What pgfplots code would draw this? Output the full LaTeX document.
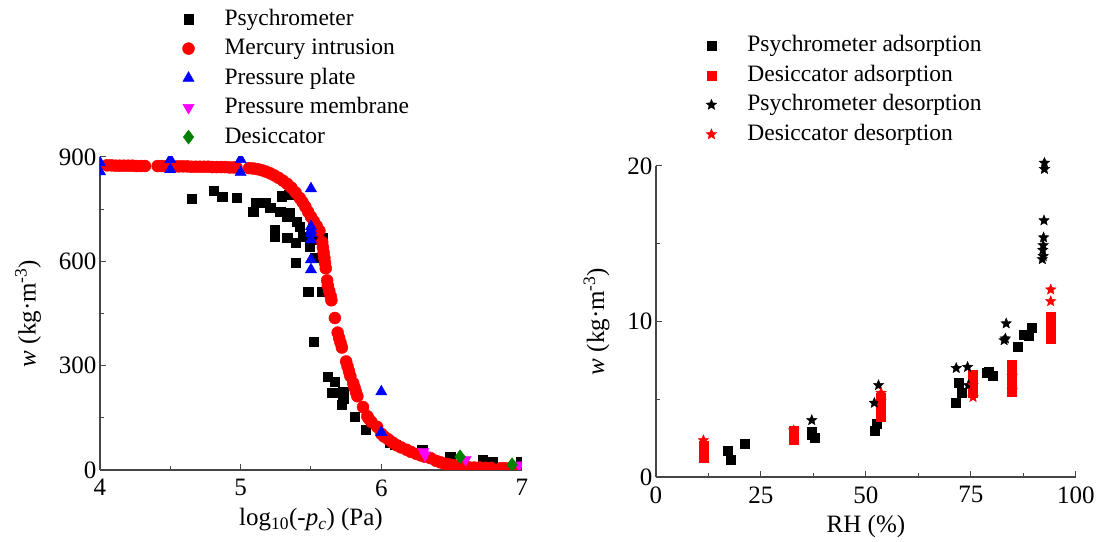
\documentclass[border=0pt]{standalone}
\usepackage{pgfplots}
\pgfplotsset{compat=1.18}
\usetikzlibrary{plotmarks}
\usepackage{fontspec}
\setmainfont{Liberation Serif}

\definecolor{axgray}{RGB}{70,70,70}
\definecolor{desgreen}{RGB}{0,128,0}
\definecolor{memmag}{RGB}{255,0,255}

% filled five-pointed star
\pgfdeclareplotmark{fstar}{%
  \pgfpathmoveto{\pgfqpointpolar{90}{\pgfplotmarksize}}%
  \pgfpathlineto{\pgfqpointpolar{126}{0.45\pgfplotmarksize}}%
  \pgfpathlineto{\pgfqpointpolar{162}{\pgfplotmarksize}}%
  \pgfpathlineto{\pgfqpointpolar{198}{0.45\pgfplotmarksize}}%
  \pgfpathlineto{\pgfqpointpolar{234}{\pgfplotmarksize}}%
  \pgfpathlineto{\pgfqpointpolar{270}{0.45\pgfplotmarksize}}%
  \pgfpathlineto{\pgfqpointpolar{306}{\pgfplotmarksize}}%
  \pgfpathlineto{\pgfqpointpolar{342}{0.45\pgfplotmarksize}}%
  \pgfpathlineto{\pgfqpointpolar{18}{\pgfplotmarksize}}%
  \pgfpathlineto{\pgfqpointpolar{54}{0.45\pgfplotmarksize}}%
  \pgfpathclose
  \pgfusepathqfillstroke}

\pgfplotsset{
  base/.style={
    scale only axis,
    axis x line=bottom, axis y line=left,
    axis line style={-, draw=axgray, line width=1.2pt},
    tick align=inside,
    major tick length=6pt, minor tick length=4pt,
    every tick/.style={axgray, line width=1pt},
    /pgf/number format/assume math mode=true,
    tick label style={font=\fontsize{25}{30}\selectfont},
    xticklabel style={yshift=-6pt},
    label style={font=\fontsize{25}{30}\selectfont},
    xlabel style={yshift=-5pt},
    ylabel style={yshift=11pt},
    legend cell align=left,
    legend style={draw=none, fill=none, font=\fontsize{23.5}{28}\selectfont,
      nodes={text height=16pt, text depth=4pt, inner sep=2pt}, row sep=5.5pt},
    legend image code/.code={\path[draw=none,fill=none] (0pt,-1pt) rectangle (37pt,1pt);
      \draw[mark repeat=2,mark phase=2] plot coordinates {(0pt,0pt) (3pt,0pt) (6pt,0pt)};},
  },
}

\begin{document}
\begin{tikzpicture}
\path (0pt,0pt) rectangle (1098pt,539pt);

% left: water content vs suction
\begin{axis}[base, at={(100pt,69pt)}, anchor=south west, width=422pt, height=313pt,
  clip marker paths=true,
  xmin=4, xmax=7, ymin=0, ymax=900,
  xtick={4,5,6,7}, minor xtick={4.5,5.5,6.5},
  ytick={0,300,600,900}, minor ytick={150,450,750},
  xlabel={log\textsubscript{10}(-\textit{p}\textsubscript{\textit{c}}) (Pa)},
  ylabel={\textit{w} (kg·m\textsuperscript{-3})},
  legend style={at={(axis description cs:0.188,1.486)}, anchor=north west},
]
\addplot[only marks, mark=square*, mark size=4.7pt, black] coordinates {
(4.65,780)(4.81,803)(4.87,785)(4.97,783)(5.09,742)(5.11,769)(5.18,769)(5.21,754)
(5.29,787)(5.34,792)(5.28,743)(5.33,729)(5.35,740)(5.40,714)(5.42,700)(5.24,691)
(5.24,671)(5.33,668)(5.39,654)(5.44,671)(5.49,642)(5.51,662)(5.58,668)(5.53,611)
(5.39,596)(5.48,513)(5.58,513)(5.52,369)(5.62,268)(5.67,253)(5.65,222)(5.73,225)
(5.72,187)(5.73,205)(5.81,153)(5.89,115)(6.06,78)(6.10,72)(6.29,58)(6.49,37)
(6.72,29)(6.79,23)(6.99,22)
};
\addlegendentry{Psychrometer}
\addplot[only marks, mark=*, mark size=6pt, red] coordinates {
(4.05,876)(4.08,876)(4.11,875)(4.14,875)(4.17,875)(4.20,875)(4.23,875)(4.26,874)
(4.29,874)(4.32,874)(4.41,874)(4.44,874)(4.47,873)(4.50,873)(4.53,873)(4.56,873)
(4.59,873)(4.62,873)(4.65,872)(4.68,872)(4.71,872)(4.74,872)(4.77,872)(4.80,871)
(4.83,871)(4.86,871)(4.89,871)(4.92,870)(4.95,870)(4.97,870)
(5.06,868)(5.09,867)(5.12,865)(5.15,862)(5.18,858)(5.21,853)(5.24,847)(5.27,840)
(5.30,832)(5.33,823)(5.36,812)(5.39,798)(5.42,782)(5.44,770)(5.46,757)(5.48,742)
(5.50,728)(5.52,715)(5.54,702)(5.56,688)
(5.58,655)(5.585,640)(5.59,625)(5.595,610)(5.60,595)(5.605,580)
(5.615,545)(5.62,530)(5.63,515)(5.64,500)(5.645,488)
(5.67,437)(5.69,395)(5.70,380)(5.71,366)(5.72,352)
(5.75,312)(5.76,298)(5.77,284)(5.78,270)(5.80,250)(5.81,237)(5.82,224)(5.83,212)
(5.87,181)(5.90,155)(5.91,148)(5.93,138)(5.97,124)(6.00,104)(6.02,96)(6.05,88)
(6.08,79)(6.11,71)(6.14,65)(6.18,58)(6.21,52)(6.25,46)(6.28,42)(6.31,38)(6.35,34)
(6.39,26)(6.42,22)(6.45,18)(6.48,16)(6.51,14)(6.55,11)(6.58,9)(6.62,8)(6.66,7)
(6.70,7)(6.74,6)(6.78,6)(6.85,5)(6.88,5)(6.92,5)(6.95,4)
};
\addlegendentry{Mercury intrusion}
\addplot[only marks, mark=triangle*, mark size=6.5pt, blue] coordinates {
(4,884)(4,858)(4.5,893)(4.5,864)(5,893)(5,856)
(5.5,809)(5.5,700)(5.5,690)(5.5,680)(5.5,662)(5.5,605)(5.5,576)
(6,225)(6,108)
};
\addlegendentry{Pressure plate}
\addplot[only marks, mark=triangle*, mark options={rotate=180}, mark size=6.5pt, memmag] coordinates {
(6.3,52)(6.31,43)(6.6,30)(6.98,14)
};
\addlegendentry{Pressure membrane}
\addplot[only marks, mark=diamond*, mark size=7pt, desgreen] coordinates {
(6.56,38)(6.93,15)
};
\addlegendentry{Desiccator}
\end{axis}

% right: water content vs relative humidity
\begin{axis}[base, at={(656pt,62pt)}, anchor=south west, width=420pt, height=311pt,
  clip=false,
  xmin=0, xmax=100, ymin=0, ymax=20,
  xtick={0,25,50,75,100}, minor xtick={12.5,37.5,62.5,87.5},
  ytick={0,10,20}, minor ytick={5,15},
  xlabel={RH (\%)},
  ylabel={\textit{w} (kg·m\textsuperscript{-3})},
  legend style={at={(axis description cs:0.112,1.432)}, anchor=north west},
]
\addplot[only marks, mark=square*, mark size=4.5pt, black] coordinates {
(17.1,1.72)(17.9,1.12)(21.1,2.15)(37.1,2.9)(37.1,2.7)(37.7,2.5)(52.2,3.0)(52.5,3.45)
(71.3,4.78)(72.1,6.07)(72.9,5.43)(78.8,6.7)(79.2,6.8)(80.2,6.5)(86.2,8.36)(87.5,9.16)
(88.7,9.1)(89.4,9.6)
};
\addlegendentry{Psychrometer adsorption}
\addplot[only marks, mark=square*, mark size=4.5pt, red] coordinates {
(11.3,2.0)(11.3,1.8)(11.3,1.6)(11.3,1.4)(11.3,1.25)
(32.8,3.0)(32.8,2.8)(32.8,2.6)(32.8,2.4)
(53.6,5.1)(53.6,4.8)(53.6,4.5)(53.6,4.2)(53.6,3.9)
(75.5,6.6)(75.5,6.3)(75.5,6.0)(75.5,5.7)(75.5,5.4)
(84.8,7.2)(84.8,6.9)(84.8,6.6)(84.8,6.2)(84.8,5.8)(84.8,5.5)
(94.0,10.3)(94.0,10.0)(94.0,9.8)(94.0,9.5)(94.0,9.2)(94.0,8.9)
};
\addlegendentry{Desiccator adsorption}
\addplot[only marks, mark=fstar, mark size=5.5pt, black, mark options={fill=black}] coordinates {
(37.1,3.65)(52.0,4.76)(53.0,5.9)(71.5,7.0)(74.2,7.07)(74.4,5.9)(82.9,8.79)(83.4,9.87)
(83.2,8.9)(92.5,20.2)(92.5,19.8)(92.4,16.5)(92.3,15.4)(92.2,14.9)(92.1,14.6)(92.2,14.2)
(92.0,14.0)
};
\addlegendentry{Psychrometer desorption}
\addplot[only marks, mark=fstar, mark size=5.5pt, red, mark options={fill=red}] coordinates {
(11.3,2.36)(32.8,3.0)(53.6,5.4)(53.6,4.9)(75.5,5.14)(75.5,5.9)(84.8,6.5)(84.8,5.6)
(94.0,12.05)(94.0,11.3)
};
\addlegendentry{Desiccator desorption}
\end{axis}
\end{tikzpicture}
\end{document}
